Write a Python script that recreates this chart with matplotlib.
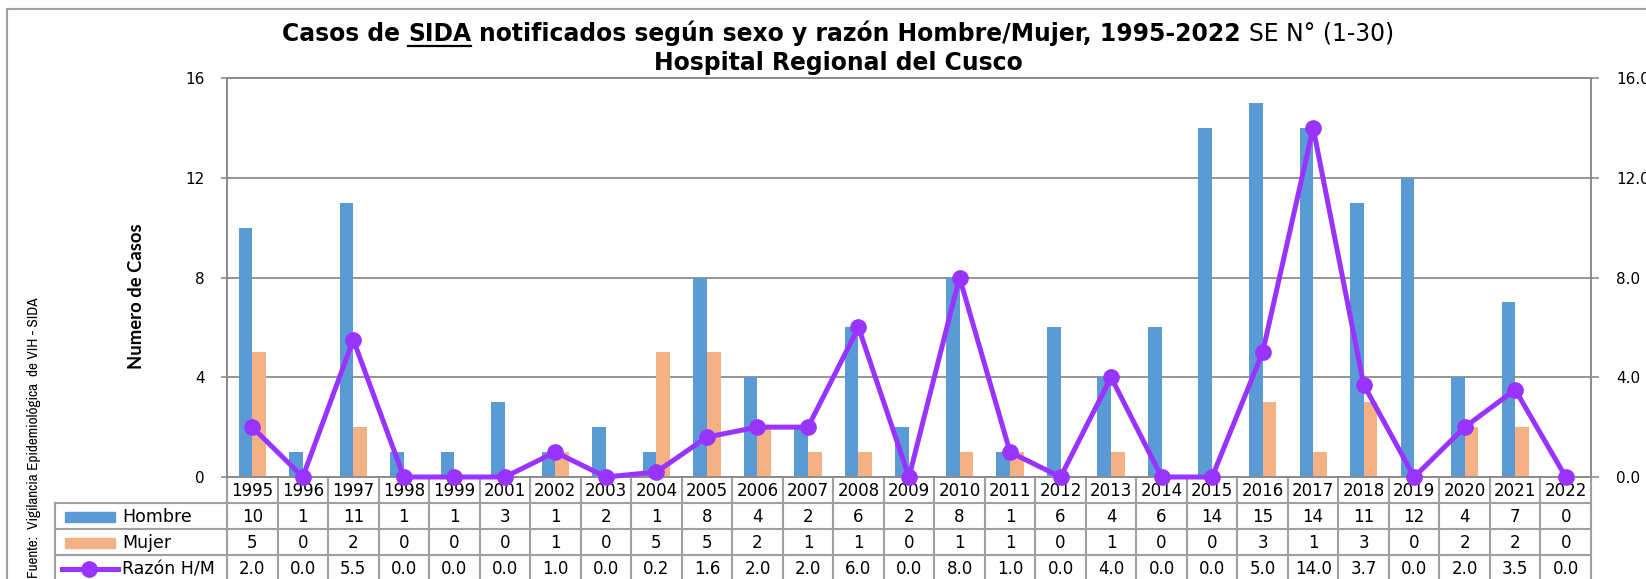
import matplotlib
matplotlib.use('Agg')
import matplotlib.pyplot as plt
import matplotlib.transforms as mtransforms
from matplotlib import font_manager
from matplotlib.patches import Rectangle
from matplotlib.lines import Line2D

# ---------------- data ----------------
years = ['1995', '1996', '1997', '1998', '1999', '2001', '2002', '2003', '2004',
         '2005', '2006', '2007', '2008', '2009', '2010', '2011', '2012', '2013',
         '2014', '2015', '2016', '2017', '2018', '2019', '2020', '2021', '2022']
hombre = [10, 1, 11, 1, 1, 3, 1, 2, 1, 8, 4, 2, 6, 2, 8, 1, 6, 4, 6, 14, 15, 14, 11, 12, 4, 7, 0]
mujer = [5, 0, 2, 0, 0, 0, 1, 0, 5, 5, 2, 1, 1, 0, 1, 1, 0, 1, 0, 0, 3, 1, 3, 0, 2, 2, 0]
razon = [2.0, 0.0, 5.5, 0.0, 0.0, 0.0, 1.0, 0.0, 0.2, 1.6, 2.0, 2.0, 6.0, 0.0, 8.0, 1.0,
         0.0, 4.0, 0.0, 0.0, 5.0, 14.0, 3.7, 0.0, 2.0, 3.5, 0.0]
series_names = ['Hombre', 'Mujer', 'Razón H/M']
left_ticks = [0, 4, 8, 12, 16]
right_ticks = [0.0, 4.0, 8.0, 12.0, 16.0]

C_BLUE = '#5B9BD5'
C_ORANGE = '#F4B183'
C_PURPLE = '#9933FF'
C_GRID = '#8C8C8C'
C_TABLE = '#A0A0A0'

# pick a narrow font if one is installed
NARROW, NARROW_STRETCH = 'Lato', 'normal'
for f in font_manager.fontManager.ttflist:
    if 'Narrow' in f.name or 'Condensed' in f.name:
        NARROW, NARROW_STRETCH = f.name, 'normal'
        break
else:
    for f in font_manager.fontManager.ttflist:
        if str(f.stretch) in ('condensed', 'semi-condensed', '87.5', '75'):
            NARROW, NARROW_STRETCH = f.name, f.stretch
            break
WIDE = 'DejaVu Sans'

W, H = 1646, 579
fig = plt.figure(figsize=(W / 100, H / 100), dpi=100)
fig.patch.set_facecolor('white')


def fx(px):
    return px / W


def fy(py):
    return 1 - py / H


AX_L, AX_R, AX_T, AX_B = 227, 1591, 78, 477
ax = fig.add_axes([fx(AX_L), fy(AX_B), fx(AX_R - AX_L), (AX_B - AX_T) / H])
ax2 = ax.twinx()
ax2.set_zorder(ax.get_zorder() + 1)
ax2.patch.set_visible(False)

n = len(years)
x = list(range(n))
bw = 0.27
ax.bar([i - bw / 2 for i in x], hombre, width=bw, color=C_BLUE, zorder=3)
ax.bar([i + bw / 2 for i in x], mujer, width=bw, color=C_ORANGE, zorder=3)
ax.set_xlim(-0.5, n - 0.5)
ax.set_ylim(0, 16)
ax.set_yticks(left_ticks)
ax.set_yticklabels([str(v) for v in left_ticks], fontfamily=WIDE, fontsize=11)
ax.set_xticks([])
ax.yaxis.grid(True, color=C_GRID, linewidth=1.3, zorder=0)
ax.set_axisbelow(True)
ax.tick_params(axis='y', length=4, width=1.2, color=C_GRID, pad=12)
for s in ['left', 'right', 'bottom', 'top']:
    ax.spines[s].set_color(C_GRID)
    ax.spines[s].set_linewidth(1.3)

ax2.plot(x, razon, color=C_PURPLE, linewidth=3.6, marker='o', markersize=11,
         clip_on=False, zorder=10)
ax2.set_ylim(0, 16)
ax2.set_yticks(right_ticks)
ax2.set_yticklabels(['%.1f' % v for v in right_ticks], fontfamily=WIDE, fontsize=11)
ax2.tick_params(axis='y', length=6, width=1.2, color=C_GRID, pad=12)
for s in ['left', 'right', 'bottom', 'top']:
    ax2.spines[s].set_color(C_GRID)
    ax2.spines[s].set_linewidth(1.3)

# ---------------- data table ----------------
blend = mtransforms.blended_transform_factory(ax.transData, fig.transFigure)
rows_y = [477, 503, 529, 555, 581]
tbl_left = 55
line_kw = dict(color=C_TABLE, linewidth=1.5, clip_on=False, zorder=1)

for yy in rows_y[1:4]:
    fig.add_artist(Line2D([fx(tbl_left), fx(AX_R)], [fy(yy), fy(yy)],
                          transform=fig.transFigure, **line_kw))
for i in range(n + 1):
    ax.plot([i - 0.5, i - 0.5], [fy(rows_y[0]), fy(H + 10)], transform=blend, **line_kw)
fig.add_artist(Line2D([fx(tbl_left), fx(tbl_left)], [fy(rows_y[1]), fy(H + 10)],
                      transform=fig.transFigure, **line_kw))

row_c = [(rows_y[k] + rows_y[k + 1]) / 2 + 1 for k in range(4)]
tkw = dict(transform=blend, ha='center', va='center', fontfamily=WIDE, fontsize=12,
           zorder=2, clip_on=False)
for i in range(n):
    ax.text(i, fy(row_c[0]), years[i], **tkw)
    ax.text(i, fy(row_c[1]), str(hombre[i]), **tkw)
    ax.text(i, fy(row_c[2]), str(mujer[i]), **tkw)
    ax.text(i, fy(row_c[3]), '%.1f' % razon[i], **tkw)

fig.add_artist(Rectangle((fx(65), fy(row_c[1] + 5)), fx(50), 10 / H,
                         transform=fig.transFigure, color=C_BLUE))
fig.add_artist(Rectangle((fx(65), fy(row_c[2] + 5)), fx(50), 10 / H,
                         transform=fig.transFigure, color=C_ORANGE))
fig.add_artist(Line2D([fx(62), fx(118)], [fy(row_c[3]), fy(row_c[3])],
                      transform=fig.transFigure, color=C_PURPLE, linewidth=3.6))
fig.add_artist(Line2D([fx(89)], [fy(row_c[3])], transform=fig.transFigure,
                      color=C_PURPLE, marker='o', markersize=11))
for k, name in enumerate(series_names):
    fig.text(fx(122), fy(row_c[k + 1]), name, ha='left', va='center',
             fontfamily=WIDE, fontsize=12.5)

# ---------------- frame ----------------
fig.add_artist(Line2D([fx(7), fx(W + 10)], [fy(9), fy(9)], transform=fig.transFigure,
                      color=C_TABLE, linewidth=1.5))
fig.add_artist(Line2D([fx(7), fx(7)], [fy(9), fy(H + 10)], transform=fig.transFigure,
                      color=C_TABLE, linewidth=1.5))

# ---------------- titles & labels ----------------
renderer = fig.canvas.get_renderer()


def text_w(s, weight, size, family=WIDE, stretch='normal'):
    t = fig.text(0, 0, s, fontweight=weight, fontsize=size, fontfamily=family,
                 fontstretch=stretch)
    w = t.get_window_extent(renderer).width
    t.remove()
    return w


pieces = [('Casos de', 'bold', False), ('SIDA', 'bold', True),
          ('notificados según sexo y razón Hombre/Mujer, 1995-2022', 'bold', False),
          ('SE N° (1-30)', 'normal', False)]


def total_w(size):
    sp_b = text_w('a a', 'bold', size) - text_w('aa', 'bold', size)
    ws = [text_w(p, wt, size) for p, wt, _ in pieces]
    return ws, sp_b, sum(ws) + 3 * sp_b


size = 14.0
ws, sp, tw = total_w(size)
size = size * 1117 / tw
ws, sp, tw = total_w(size)
x0 = 838 - tw / 2
cur = x0
for (p, wt, ul), w in zip(pieces, ws):
    fig.text(fx(cur), fy(41), p, fontweight=wt, fontsize=size, fontfamily=WIDE,
             ha='left', va='baseline')
    if ul:
        fig.add_artist(Line2D([fx(cur), fx(cur + w)], [fy(46), fy(46)],
                              transform=fig.transFigure, color='black', linewidth=1.6))
    cur += w + sp

fig.text(fx(838), fy(70), 'Hospital Regional del Cusco', fontweight='bold', fontsize=size,
         fontfamily=WIDE, ha='center', va='baseline')

# y label
ys = 13.5
yw = text_w('Numero de Casos', 'bold', ys, 'Lato')
ys = ys * 146 / yw
fig.text(fx(137), fy(296), 'Numero de Casos', rotation=90, ha='center', va='center',
         fontweight='bold', fontsize=ys, fontfamily='Lato')

src = 'Fuente:  Vigilancia Epidemiológica  de VIH - SIDA'
ss = 9.5
sw = text_w(src, 'normal', ss, NARROW, NARROW_STRETCH)
ss = min(12, ss * 280 / sw)
sw = text_w(src, 'normal', ss, NARROW, NARROW_STRETCH)
fig.text(fx(34), fy(297 + sw / 2), src, rotation=90, ha='center', va='center',
         fontsize=ss, fontfamily=NARROW, fontstretch=NARROW_STRETCH)

fig.savefig('out.png', dpi=100)
